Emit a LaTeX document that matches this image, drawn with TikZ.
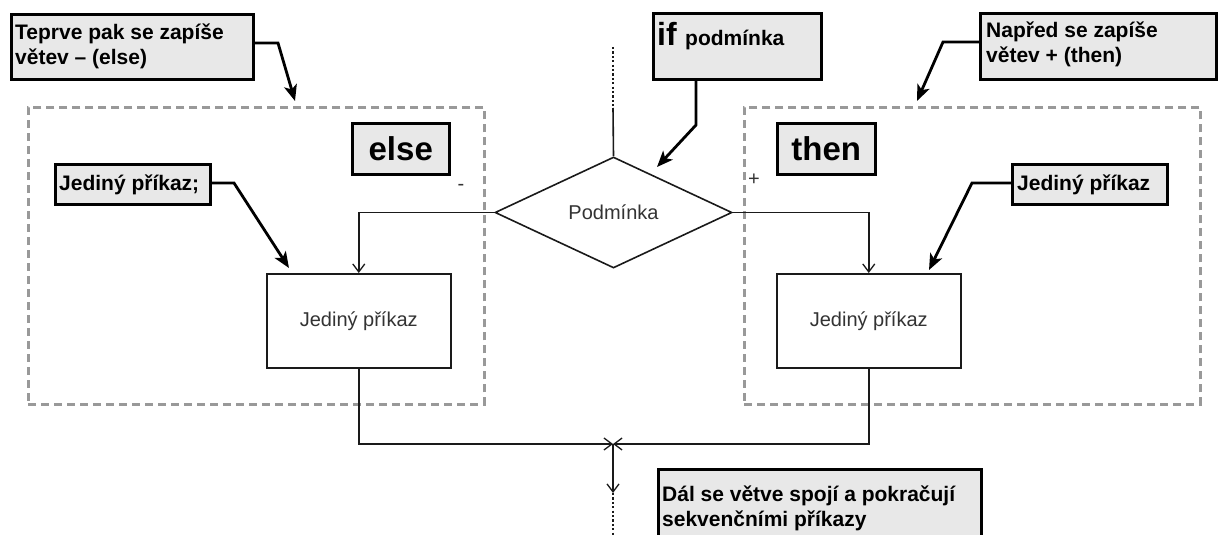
\documentclass[tikz,border=0pt]{standalone}
\usepackage{fontspec}
\setmainfont{Liberation Sans}
\usetikzlibrary{arrows.meta,shapes.geometric}
\definecolor{boxgray}{HTML}{E8E8E8}
\definecolor{dashgray}{HTML}{999999}
\definecolor{ink}{HTML}{1A1A1A}
\definecolor{softink}{HTML}{333333}
\tikzset{
  callout/.style={draw=black, line width=2.8pt, fill=boxgray, inner sep=0pt, anchor=north west},
  calltext/.style={font=\bfseries\fontsize{21}{25}\selectfont, anchor=base west, inner sep=0pt, align=left},
  keybox/.style={draw=black, line width=2.5pt, fill=boxgray, inner sep=0pt, anchor=north west,
                 font=\bfseries\fontsize{33}{36}\selectfont},
  callarrow/.style={line width=2.8pt, -{Stealth[length=16pt,width=13pt,inset=4pt]}},
  branchbox/.style={draw=dashgray, line width=2.8pt, dash pattern=on 8pt off 5pt, inner sep=0pt, anchor=north west},
  cmdbox/.style={draw=ink, line width=1.5pt, fill=white, inner sep=0pt, anchor=north west,
                 font=\fontsize{20}{24}\selectfont, text=softink},
  flowline/.style={draw=ink, line width=1.6pt},
  flowtip/.style={-{Straight Barb[length=8pt,width=12pt,line width=1.3pt]}},
  dotline/.style={draw=ink, line width=1.8pt, dash pattern=on 2.2pt off 2.2pt},
  signlabel/.style={font=\fontsize{20}{22}\selectfont, text=softink, inner sep=0pt}
}
\begin{document}
\begin{tikzpicture}[x=1pt, y=-1pt]
\clip (0,0) rectangle (1221,535);
\fill[white] (0,0) rectangle (1221,535);

% dashed frames of the two branches
\node[branchbox, minimum width=456pt, minimum height=297pt] (elsebranch) at (27,106) {};
\node[branchbox, minimum width=456pt, minimum height=297pt] (thenbranch) at (743,106) {};

% keyword boxes
\node[keybox, minimum width=97pt, minimum height=51pt] (elsekey) at (351,122) {else};
\node[keybox, minimum width=98pt, minimum height=51pt] (thenkey) at (776,122) {then};

% condition
\node[diamond, draw=ink, line width=1.6pt, fill=white, minimum width=237pt, minimum height=111pt,
      inner sep=0pt, font=\fontsize{20}{24}\selectfont, text=softink] (cond) at (613.5,212.5) {Podmínka};

% commands of the branches
\node[cmdbox, minimum width=184pt, minimum height=94pt] (lbox) at (266,273) {Jediný příkaz};
\node[cmdbox, minimum width=184pt, minimum height=94pt] (rbox) at (776,273) {Jediný příkaz};

% branch signs
\node[signlabel] (minus) at (461,187) {-};
\node[signlabel] (plus) at (754,180) {+};

% incoming flow
\coordinate (topdot) at (613,47);
\coordinate (topsolid) at (613,108);
\draw[dotline] (topdot) -- (topsolid);
\draw[flowline] (topsolid) -- (cond.north);

% branches
\draw[flowline, flowtip] (cond.west) -| (lbox.north);
\draw[flowline, flowtip] (cond.east) -| (rbox.north);

% join and outgoing flow
\coordinate (merge) at (613,444);
\coordinate (contin) at (613,493);
\coordinate (outdot) at (613,535);
\draw[flowline, flowtip] (lbox.south) |- (merge);
\draw[flowline, flowtip] (rbox.south) |- (merge);
\draw[flowline, flowtip] (merge) -- (contin);
\draw[dotline] (contin) -- (outdot);

% callout: else branch written second
\node[callout, minimum width=242pt, minimum height=65pt] (tlbox) at (10,13) {};
\node[calltext] (tltext) at (15,65) {Teprve pak se zapíše\\větev – (else)};
\coordinate (tlbend) at (278,43);
\coordinate (tltip) at (295,101);
\draw[callarrow] (tlbox.east |- tlbend) -- (tlbend) -- (tltip);

% callout: condition
\node[callout, minimum width=168pt, minimum height=66pt] (ifbox) at (652,12) {};
\node[calltext, font=\bfseries\fontsize{32}{34}\selectfont] (iftext) at (657,46) {if};
\node[calltext] (podtext) at (685,46) {podmínka};
\coordinate (ifbend) at (696,125);
\coordinate (iftip) at (657,167);
\draw[callarrow] (ifbox.south -| ifbend) -- (ifbend) -- (iftip);

% callout: then branch written first
\node[callout, minimum width=236pt, minimum height=66pt] (trbox) at (979,12) {};
\node[calltext] (trtext) at (986,63) {Napřed se zapíše\\větev + (then)};
\coordinate (trbend) at (943,42);
\coordinate (trtip) at (917,101);
\draw[callarrow] (trbox.west |- trbend) -- (trbend) -- (trtip);

% callout: single command in else branch
\node[callout, minimum width=155pt, minimum height=40pt] (lcbox) at (54,163) {};
\node[calltext] (lctext) at (59,190) {Jediný příkaz;};
\coordinate (lcbend) at (234,183);
\coordinate (lctip) at (289,268);
\draw[callarrow] (lcbox.east |- lcbend) -- (lcbend) -- (lctip);

% callout: single command in then branch
\node[callout, minimum width=155pt, minimum height=40pt] (rcbox) at (1011,163) {};
\node[calltext] (rctext) at (1017,190) {Jediný příkaz};
\coordinate (rcbend) at (972,183);
\coordinate (rctip) at (929,270);
\draw[callarrow] (rcbox.west |- rcbend) -- (rcbend) -- (rctip);

% callout: joining of the branches
\node[callout, minimum width=323pt, minimum height=80pt] (bcbox) at (657,468) {};
\node[calltext] (bctext) at (662,526) {Dál se větve spojí a pokračují\\sekvenčními příkazy};
\end{tikzpicture}
\end{document}
